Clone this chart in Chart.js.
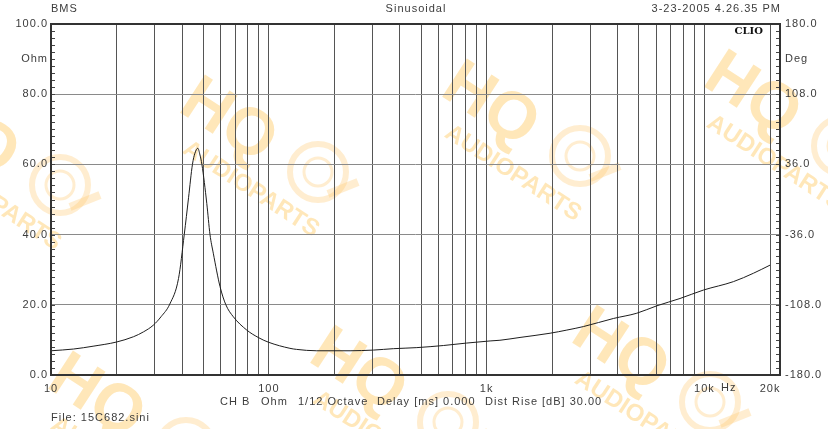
<!DOCTYPE html>
<html>
<head>
<meta charset="utf-8">
<script src="https://cdn.jsdelivr.net/npm/chart.js@4/dist/chart.umd.min.js"></script>
<style>
  html, body { margin: 0; padding: 0; background: #fff; }
  canvas { display: block; }
</style>
</head>
<body>
<canvas id="impChart" width="828" height="429"></canvas>
<script>
// impedance curve
var freqHz = [10, 12.7, 15.6, 20, 23.9, 26.6, 29.5, 32, 35.1, 38.5, 40.9, 42.8, 44.6, 45.8, 47.2, 48.3, 49.3, 51.9, 53.7, 55.6, 59.7, 63.5, 68.7, 79.2, 90, 100, 125, 134, 166, 236, 302, 373, 478, 633, 810, 1037, 1151, 1423, 1955, 2334, 2783, 3818, 4890, 6035, 7724, 9890, 13580, 16790, 20000];
var impOhm = [6.9, 7.4, 8.2, 9.4, 10.9, 12.3, 14.2, 16.6, 20.2, 27.5, 40, 50.5, 60, 63.2, 64.6, 62.7, 60, 48.9, 40, 34.7, 25.2, 20, 16.6, 12.8, 10.6, 9.3, 7.6, 7.3, 6.9, 6.9, 7.1, 7.5, 7.8, 8.4, 9.1, 9.7, 9.9, 10.7, 11.9, 12.8, 13.8, 16.1, 17.6, 19.7, 21.8, 24.2, 26.6, 29.0, 31.3];

// axes
var xMin = 10, xMax = 22220;
var xGridValues = [20, 30, 40, 50, 60, 70, 80, 90, 100, 200, 300, 400, 500, 600, 700, 800, 900, 1000, 2000, 3000, 4000, 5000, 6000, 7000, 8000, 9000, 10000, 20000];
var xLabelValues = [10, 100, 1000, 10000, 20000];
var xLabelTexts = ['10', '100', '1k', '10k', '20k'];
var ohmLabelValues = [0, 20, 40, 60, 80, 90, 100];
var ohmLabelTexts = ['0.0', '20.0', '40.0', '60.0', '80.0', 'Ohm', '100.0'];
var degLabelValues = [-180, -108, -36, 36, 108, 144, 180];
var degLabelTexts = ['-180.0', '-108.0', '-36.0', '36.0', '108.0', 'Deg', '180.0'];

var txtColor = '#3c3c3c';
var baseFont = { family: '"Liberation Sans", Arial, sans-serif', size: 11 };

function drawMark(c, x, y) {
    c.save();
    c.letterSpacing = '0px';
    c.translate(x, y);
    c.rotate(33 * Math.PI / 180);
    c.fillStyle = 'rgba(255,192,70,0.38)';
    c.textAlign = 'center';
    c.textBaseline = 'middle';
    c.font = 'bold 66px "Liberation Sans", Arial, sans-serif';
    c.fillText('HQ', 0, 0);
    c.font = 'bold 24px "Liberation Sans", Arial, sans-serif';
    c.fillText('AUDIOPARTS', 56, 44);
    c.restore();
    // cable reel logo
    c.save();
    c.strokeStyle = 'rgba(255,200,110,0.32)';
    c.lineWidth = 6;
    c.beginPath(); c.arc(x + 90, y + 50, 28, 0, Math.PI * 2); c.stroke();
    c.lineWidth = 3;
    c.beginPath(); c.arc(x + 90, y + 50, 14, 0, Math.PI * 2); c.stroke();
    c.lineWidth = 8;
    c.beginPath(); c.moveTo(x + 100, y + 72); c.lineTo(x + 130, y + 60); c.stroke();
    c.restore();
}

var marks = [[-30, 135], [228, 122], [490, 106], [752, 96], [96, 398], [358, 372], [620, 352]];

var clioPlugin = {
    id: 'clio',
    beforeUpdate: function (chart) { chart.ctx.letterSpacing = '1px'; },
    beforeDraw: function (chart) {
        var c = chart.ctx;
        c.letterSpacing = '1px';
        c.save();
        c.fillStyle = '#fff';
        c.fillRect(0, 0, chart.width, chart.height);
        c.restore();
        marks.forEach(function (m) { drawMark(c, m[0], m[1]); });
    },
    afterDraw: function (chart) {
        var c = chart.ctx, a = chart.chartArea;
        var yL = chart.scales.y, yR = chart.scales.y2;
        c.save();
        // minor ticks
        c.strokeStyle = '#444';
        c.lineWidth = 1;
        c.beginPath();
        for (var v = 0; v <= 100; v += 2) {
            var py = Math.round(yL.getPixelForValue(v)) + 0.5;
            c.moveTo(a.left, py); c.lineTo(a.left + 4, py);
        }
        for (var k = 0; k <= 50; k++) {
            var pr = Math.round(yR.getPixelForValue(-180 + k * 7.2)) + 0.5;
            c.moveTo(a.right - 4, pr); c.lineTo(a.right, pr);
        }
        c.stroke();
        // frame
        c.strokeStyle = '#333';
        c.lineWidth = 2;
        c.strokeRect(a.left, a.top, a.right - a.left, a.bottom - a.top);

        // texts
        c.letterSpacing = '1px';
        c.fillStyle = txtColor;
        c.font = '11px "Liberation Sans", Arial, sans-serif';
        c.textBaseline = 'middle';
        c.textAlign = 'left';
        c.fillText('BMS', 51, 9);
        c.textAlign = 'center';
        c.fillText('Sinusoidal', 416, 9);
        c.textAlign = 'right';
        c.fillText('3-23-2005 4.26.35 PM', 781, 9);
        c.textAlign = 'left';
        c.fillText('Hz', 721, 388);
        c.fillText('CH B', 220, 402);
        c.fillText('Ohm', 261, 402);
        c.fillText('1/12 Octave', 298, 402);
        c.fillText('Delay [ms] 0.000', 377, 402);
        c.fillText('Dist Rise [dB] 30.00', 485, 402);
        c.fillText('File: 15C682.sini', 51, 418);
        c.letterSpacing = '0px';
        c.fillStyle = '#111';
        c.font = 'bold 10px "DejaVu Serif", serif';
        c.textAlign = 'right';
        c.fillText('CLIO', 763, 31);
        c.restore();
    }
};

var ctx = document.getElementById('impChart').getContext('2d');
var impChart = new Chart(ctx, {
    type: 'line',
    data: {
        datasets: [{
            data: freqHz.map(function (f, i) { return { x: f, y: impOhm[i] }; }),
            borderColor: '#1e1e1e',
            borderWidth: 1,
            pointRadius: 0,
            cubicInterpolationMode: 'monotone',
            fill: false,
            yAxisID: 'y'
        }]
    },
    options: {
        responsive: false,
        animation: false,
        events: [],
        layout: { padding: { top: 24, left: 0, right: 0, bottom: 0 } },
        plugins: { legend: { display: false }, tooltip: { enabled: false } },
        scales: {
            x: {
                type: 'logarithmic',
                min: xMin,
                max: xMax,
                afterBuildTicks: function (s) {
                    s.ticks = xLabelValues.concat(xGridValues).filter(function (v, i, arr) { return arr.indexOf(v) === i; })
                        .sort(function (p, q) { return p - q; }).map(function (v) { return { value: v }; });
                },
                afterFit: function (s) { s.height = 54; },
                border: { display: false },
                grid: {
                    drawTicks: false,
                    color: function (g) { return g.tick && g.tick.value > 10 ? '#555' : 'transparent'; },
                    lineWidth: 1
                },
                ticks: {
                    autoSkip: false,
                    maxRotation: 0,
                    padding: 7,
                    color: txtColor,
                    font: baseFont,
                    callback: function (v) {
                        var i = xLabelValues.indexOf(v);
                        return i >= 0 ? xLabelTexts[i] : '';
                    }
                }
            },
            y: {
                position: 'left',
                min: 0,
                max: 100,
                afterBuildTicks: function (s) { s.ticks = ohmLabelValues.map(function (v) { return { value: v }; }); },
                afterFit: function (s) { s.width = 51; },
                border: { display: false },
                grid: {
                    drawTicks: false,
                    color: function (g) {
                        var v = g.tick ? g.tick.value : 0;
                        return (v > 0 && v < 100 && v % 20 === 0) ? '#8a8a8a' : 'transparent';
                    }
                },
                ticks: {
                    padding: 3,
                    color: txtColor,
                    font: baseFont,
                    callback: function (v) {
                        var i = ohmLabelValues.indexOf(v);
                        return i >= 0 ? ohmLabelTexts[i] : '';
                    }
                }
            },
            y2: {
                position: 'right',
                min: -180,
                max: 180,
                afterBuildTicks: function (s) { s.ticks = degLabelValues.map(function (v) { return { value: v }; }); },
                afterFit: function (s) { s.width = 48; },
                border: { display: false },
                grid: { drawOnChartArea: false, drawTicks: false },
                ticks: {
                    padding: 5,
                    color: txtColor,
                    font: baseFont,
                    callback: function (v) {
                        var i = degLabelValues.indexOf(v);
                        return i >= 0 ? degLabelTexts[i] : '';
                    }
                }
            }
        }
    },
    plugins: [clioPlugin]
});
</script>
</body>
</html>
